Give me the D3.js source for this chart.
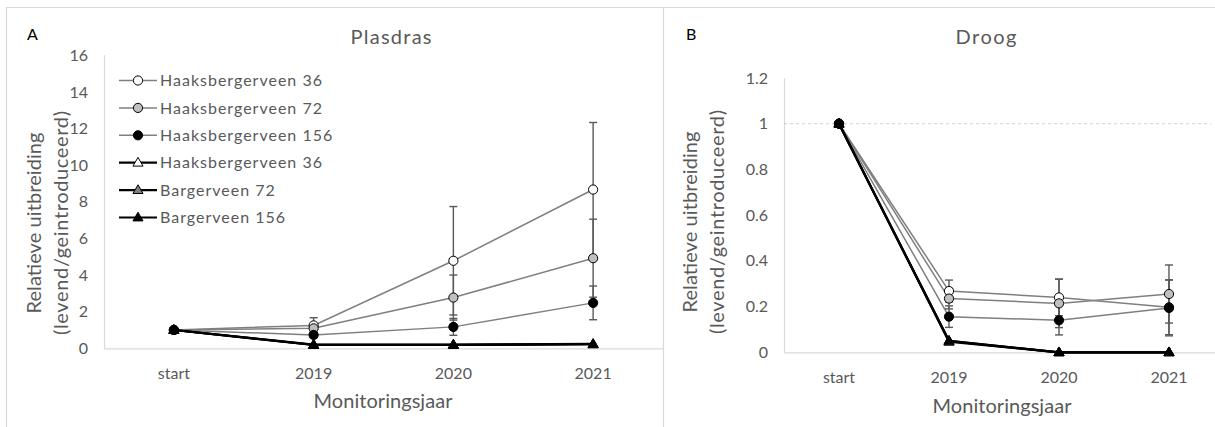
<!DOCTYPE html>
<html>
<head>
<meta charset="utf-8">
<script src="https://cdn.jsdelivr.net/npm/d3@7"></script>
<style>
  html, body { margin: 0; padding: 0; background: #fff; }
  svg { display: block; font-family: "Lato", "Open Sans", sans-serif; }
</style>
</head>
<body>
<svg id="chart" width="1215" height="427"></svg>
<script>
// ---- data ----
const categories = ["start", "2019", "2020", "2021"];
const seriesNames = ["Haaksbergerveen 36", "Haaksbergerveen 72", "Haaksbergerveen 156",
                     "Haaksbergerveen 36", "Bargerveen 72", "Bargerveen 156"];
const seriesShapes = ["circle", "circle", "circle", "triangle", "triangle", "triangle"];
const seriesFills = ["#ffffff", "#bfbfbf", "#000000", "#ffffff", "#7f7f7f", "#000000"];

// Plasdras: mean relative extent and error per year
const plasdrasValues = [
  [1, 1.25, 4.78, 8.67],
  [1, 1.09, 2.77, 4.92],
  [1, 0.73, 1.17, 2.48],
  [1, 0.20, 0.20, 0.24],
  [1, 0.19, 0.19, 0.22],
  [1, 0.18, 0.18, 0.22]
];
const plasdrasErrors = [
  [0, 0.42, 2.96, 3.66],
  [0, 0.25, 1.23, 2.13],
  [0, 0.15, 0.46, 0.92],
  [0, 0, 0, 0],
  [0, 0, 0, 0],
  [0, 0, 0, 0]
];
const plasdrasTicks = [0, 2, 4, 6, 8, 10, 12, 14, 16];
const plasdrasTickLabels = ["0", "2", "4", "6", "8", "10", "12", "14", "16"];

// Droog: mean relative extent and error per year
const droogValues = [
  [1, 0.268, 0.240, 0.197],
  [1, 0.235, 0.214, 0.255],
  [1, 0.156, 0.140, 0.194],
  [1, 0.050, 0, 0],
  [1, 0.046, 0, 0],
  [1, 0.050, 0, 0]
];
const droogErrors = [
  [0, 0.048, 0.080, 0.120],
  [0, 0.045, 0.106, 0.127],
  [0, 0.047, 0.064, 0.122],
  [0, 0, 0, 0],
  [0, 0, 0, 0],
  [0, 0, 0, 0]
];
const droogTicks = [0, 0.2, 0.4, 0.6, 0.8, 1, 1.2];
const droogTickLabels = ["0", "0.2", "0.4", "0.6", "0.8", "1", "1.2"];

// ---- drawing ----
const svg = d3.select("#chart");
const textGrey = "#595959";
const axisGrey = "#d9d9d9";

// panel frames
svg.append("path")
  .attr("d", "M6.5,428 V7.5 H1216 M663.5,7.5 V428")
  .attr("fill", "none").attr("stroke", "#d9d9d9").attr("stroke-width", 1.2);

function marker(g, shape, fill, x, y) {
  if (shape === "circle") {
    g.append("circle").attr("cx", x).attr("cy", y).attr("r", 4.6)
      .attr("fill", fill).attr("stroke", "#000").attr("stroke-width", 1);
  } else {
    g.append("path")
      .attr("d", d3.symbol(d3.symbolTriangle, 44)())
      .attr("transform", `translate(${x},${y + 0.5})`)
      .attr("fill", fill).attr("stroke", "#000").attr("stroke-width", 1);
  }
}

// text stretched to a fixed run length
function fitted(g, str, x, y, size, len, rotate) {
  return g.append("text")
    .attr("transform", rotate ? `translate(${x},${y}) rotate(-90)` : `translate(${x},${y})`)
    .attr("text-anchor", "middle").attr("dy", "0.35em")
    .attr("fill", textGrey).attr("font-size", size)
    .attr("textLength", len).attr("lengthAdjust", "spacing")
    .text(str);
}

function drawPanel(opt) {
  const g = svg.append("g");
  const x = d3.scalePoint().domain(categories).range([opt.left, opt.right]).padding(0.5);
  const y = d3.scaleLinear().domain(opt.domain).range([opt.bottom, opt.top]);

  // axes lines
  g.append("line").attr("x1", opt.left + 0.5).attr("x2", opt.left + 0.5)
    .attr("y1", opt.top).attr("y2", opt.bottom).attr("stroke", axisGrey).attr("stroke-width", 1.2);
  g.append("line").attr("x1", opt.left).attr("x2", opt.axisEnd)
    .attr("y1", opt.bottom + 0.5).attr("y2", opt.bottom + 0.5).attr("stroke", axisGrey).attr("stroke-width", 1.2);

  // reference line
  if (opt.refLine !== undefined) {
    g.append("line").attr("x1", opt.left).attr("x2", opt.axisEnd - 4)
      .attr("y1", y(opt.refLine)).attr("y2", y(opt.refLine))
      .attr("stroke", "#d0d0d0").attr("stroke-width", 1).attr("stroke-dasharray", "3,3");
  }

  // y tick labels
  g.selectAll(".ytick").data(opt.ticks).enter().append("text")
    .attr("x", opt.left - 16).attr("y", d => y(d)).attr("dy", "0.35em")
    .attr("text-anchor", "end").attr("fill", textGrey).attr("font-size", 16)
    .text((d, i) => opt.tickLabels[i]);

  // x tick labels
  g.selectAll(".xtick").data(categories).enter().append("text")
    .attr("x", d => x(d)).attr("y", opt.bottom + 25).attr("dy", "0.35em")
    .attr("text-anchor", "middle").attr("fill", textGrey).attr("font-size", 16)
    .text(d => d);

  // titles
  fitted(g, opt.title, opt.titleX, 37, 20, opt.titleLen, false);
  g.append("text").attr("x", opt.letterX).attr("y", 34).attr("dy", "0.35em")
    .attr("fill", "#000").attr("font-size", 16).text(opt.letter);
  fitted(g, "Monitoringsjaar", opt.xTitleX, opt.xTitleY, 20, 139, false);
  fitted(g, "Relatieve uitbreiding", opt.yTitleX, opt.yTitleY, 20, 181, true);
  fitted(g, "(levend/geintroduceerd)", opt.yTitleX + 27, opt.yTitleY, 20, 224, true);

  const line = d3.line().x((d, i) => x(categories[i])).y(d => y(d));

  // series lines
  opt.values.forEach((vals, s) => {
    const tri = seriesShapes[s] === "triangle";
    g.append("path").attr("d", line(vals)).attr("fill", "none")
      .attr("stroke", tri ? "#000" : "#7f7f7f").attr("stroke-width", tri ? 2.2 : 1.5);
  });

  // error bars
  opt.values.forEach((vals, s) => {
    vals.forEach((v, i) => {
      const e = opt.errors[s][i];
      if (!e) return;
      const cx = x(categories[i]);
      const eg = g.append("g").attr("stroke", "#595959").attr("stroke-width", 1.4);
      eg.append("line").attr("x1", cx).attr("x2", cx).attr("y1", y(v + e)).attr("y2", y(v - e));
      [v + e, v - e].forEach(c => {
        eg.append("line").attr("x1", cx - 4).attr("x2", cx + 4).attr("y1", y(c)).attr("y2", y(c));
      });
    });
  });

  // markers: triangles below, circles on top
  const order = [3, 4, 5, 0, 1, 2];
  order.forEach(s => {
    opt.values[s].forEach((v, i) => marker(g, seriesShapes[s], seriesFills[s], x(categories[i]), y(v)));
  });
  return g;
}

drawPanel({
  left: 104, right: 663, axisEnd: 663, top: 55.3, bottom: 348.3,
  domain: [0, 16], ticks: plasdrasTicks, tickLabels: plasdrasTickLabels,
  values: plasdrasValues, errors: plasdrasErrors,
  title: "Plasdras", titleX: 391, titleLen: 81, letter: "A", letterX: 27,
  xTitleX: 383, xTitleY: 401, yTitleX: 34, yTitleY: 223
});

drawPanel({
  left: 784, right: 1224, axisEnd: 1215, top: 78, bottom: 352.3,
  domain: [0, 1.2], ticks: droogTicks, tickLabels: droogTickLabels,
  values: droogValues, errors: droogErrors, refLine: 1,
  title: "Droog", titleX: 986, titleLen: 61, letter: "B", letterX: 686,
  xTitleX: 1002, xTitleY: 406, yTitleX: 690, yTitleY: 222
});

// legend (Plasdras panel)
const legend = svg.append("g");
seriesNames.forEach((name, s) => {
  const ly = 80.5 + s * 27.4;
  const tri = seriesShapes[s] === "triangle";
  legend.append("line").attr("x1", 119).attr("x2", 157).attr("y1", ly).attr("y2", ly)
    .attr("stroke", tri ? "#000" : "#7f7f7f").attr("stroke-width", tri ? 2.2 : 1.5);
  marker(legend, seriesShapes[s], seriesFills[s], 138, ly);
  legend.append("text").attr("x", 160).attr("y", ly).attr("dy", "0.35em")
    .attr("fill", textGrey).attr("font-size", 16).attr("letter-spacing", 1)
    .text(name);
});
</script>
</body>
</html>
